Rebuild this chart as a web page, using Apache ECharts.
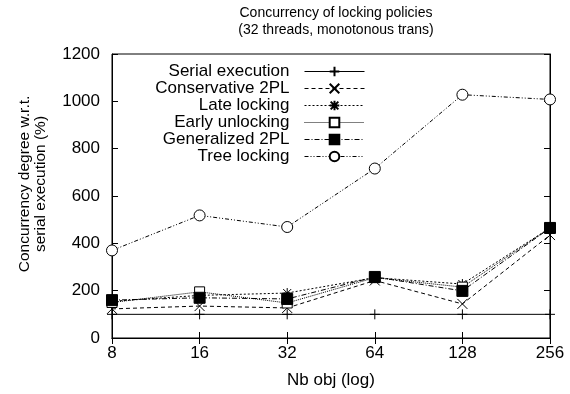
<!DOCTYPE html>
<html>
<head>
<meta charset="utf-8">
<script src="https://cdn.jsdelivr.net/npm/echarts@6/dist/echarts.min.js"></script>
<style>
  html, body { margin: 0; padding: 0; background: #fff; }
  #box { width: 570px; height: 394px; }
</style>
</head>
<body>
<div id="box"></div>
<script>
const categories = ['8', '16', '32', '64', '128', '256'];
const serialExec = [100, 100, 100, 100, 100, 100];
const conservative2PL = [123, 135, 127, 243, 144, 435];
const lateLocking = [155, 180, 190, 255, 228, 465];
const earlyUnlocking = [150, 195, 148, 255, 215, 465];
const generalized2PL = [160, 170, 165, 258, 199, 465];
const treeLocking = [370, 518, 469, 716, 1028, 1008];
const yTicks = [0, 200, 400, 600, 800, 1000, 1200];

const FONT = 'Liberation Sans';
const FS = 17;
const plusPath = 'path://M5,0 L5,10 M0,5 L10,5';
const crossPath = 'path://M0,0 L10,10 M10,0 L0,10';
const starPath = 'path://M5,0 L5,10 M0,5 L10,5 M1,1 L9,9 M9,1 L1,9';

const box = document.getElementById('box');
const myChart = echarts.init(box);

function mkSeries(name, data, dash, symbol, size, itemStyle) {
  return {
    name: name,
    type: 'line',
    data: data,
    symbol: symbol,
    symbolSize: size,
    showAllSymbol: true,
    lineStyle: { color: '#000', width: 1, type: dash },
    itemStyle: itemStyle,
    emphasis: { disabled: true },
    animation: false
  };
}

const option = {
  backgroundColor: '#fff',
  title: {
    text: 'Concurrency of locking policies\n(32 threads, monotonous trans)',
    left: 331,
    top: 0,
    textAlign: 'center',
    textStyle: { fontFamily: FONT, fontSize: 14, fontWeight: 'normal', color: '#000', lineHeight: 17 }
  },
  graphic: [{
    type: 'text',
    x: 33,
    y: 184,
    rotation: Math.PI / 2,
    style: {
      text: 'Concurrency degree w.r.t.\nserial execution (%)',
      font: '15.5px "Liberation Sans"',
      fill: '#000',
      align: 'center',
      verticalAlign: 'middle',
      lineHeight: 16
    }
  }],
  legend: {
    orient: 'vertical',
    right: 200,
    top: 58,
    align: 'right',
    itemWidth: 60,
    itemHeight: 12,
    itemGap: 0,
    lineStyle: { width: 1 },
    textStyle: { fontFamily: FONT, fontSize: FS, color: '#000', padding: [0, 10, 0, 0] },
    data: ['Serial execution', 'Conservative 2PL', 'Late locking', 'Early unlocking', 'Generalized 2PL', 'Tree locking']
  },
  grid: { left: 112, right: 20, top: 54, bottom: 56, show: true, borderColor: '#000', borderWidth: 1 },
  xAxis: [{
    type: 'category',
    data: categories,
    boundaryGap: false,
    name: 'Nb obj (log)',
    nameLocation: 'middle',
    nameGap: 34,
    nameTextStyle: { fontFamily: FONT, fontSize: FS, color: '#000' },
    axisLine: { lineStyle: { color: '#000' } },
    axisTick: { inside: true, length: 6, lineStyle: { color: '#000' } },
    axisLabel: { fontFamily: FONT, fontSize: FS, color: '#000', margin: 7 },
    splitLine: { show: false }
  }, {
    type: 'category',
    data: categories,
    boundaryGap: false,
    position: 'top',
    axisLine: { lineStyle: { color: '#000' } },
    axisTick: { inside: true, length: 6, lineStyle: { color: '#000' } },
    axisLabel: { show: false }
  }],
  yAxis: [{
    type: 'value',
    min: 0,
    max: 1200,
    interval: 200,
    axisLine: { show: true, lineStyle: { color: '#000' } },
    axisTick: { show: true, inside: true, length: 6, lineStyle: { color: '#000' } },
    axisLabel: { fontFamily: FONT, fontSize: FS, color: '#000', margin: 12,
      formatter: v => yTicks.indexOf(v) >= 0 ? String(v) : '' },
    splitLine: { show: false }
  }, {
    type: 'value',
    min: 0,
    max: 1200,
    interval: 200,
    position: 'right',
    axisLine: { show: true, lineStyle: { color: '#000' } },
    axisTick: { show: true, inside: true, length: 6, lineStyle: { color: '#000' } },
    axisLabel: { show: false },
    splitLine: { show: false }
  }],
  series: [
    mkSeries('Serial execution', serialExec, 'solid', plusPath, 10,
      { color: 'rgba(0,0,0,0)', borderColor: '#000', borderWidth: 1 }),
    mkSeries('Conservative 2PL', conservative2PL, [4, 3], crossPath, 10,
      { color: 'rgba(0,0,0,0)', borderColor: '#000', borderWidth: 1 }),
    mkSeries('Late locking', lateLocking, [2, 2], starPath, 10,
      { color: 'rgba(0,0,0,0)', borderColor: '#000', borderWidth: 1 }),
    mkSeries('Early unlocking', earlyUnlocking, [1, 1], 'rect', 10,
      { color: '#fff', borderColor: '#000', borderWidth: 1 }),
    mkSeries('Generalized 2PL', generalized2PL, [5, 2, 1, 2], 'rect', 11,
      { color: '#000', borderColor: '#000', borderWidth: 1 }),
    mkSeries('Tree locking', treeLocking, [4, 2, 1, 2, 1, 2], 'circle', 11,
      { color: '#fff', borderColor: '#000', borderWidth: 1 })
  ]
};
myChart.setOption(option);
</script>
</body>
</html>
